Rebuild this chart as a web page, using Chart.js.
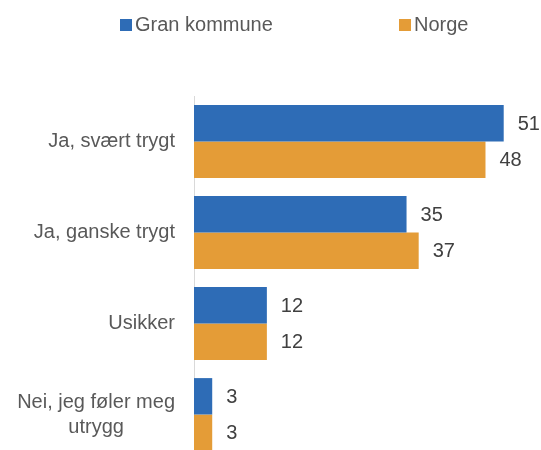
<!DOCTYPE html>
<html>
<head>
<meta charset="utf-8">
<script src="https://cdn.jsdelivr.net/npm/chart.js@4/dist/chart.umd.min.js"></script>
<style>
  html, body { margin: 0; padding: 0; background: #fff; overflow: hidden; }
  #wrap { width: 541px; height: 450px; overflow: hidden; }
</style>
</head>
<body>
<div id="wrap"><canvas id="chart" width="541" height="470"></canvas></div>
<script>
// Trygghet – Gran kommune vs Norge (prosent)
const categories = [
  'Ja, svært trygt',
  'Ja, ganske trygt',
  'Usikker',
  ['Nei, jeg føler meg', 'utrygg']
];
const seriesNames = ['Gran kommune', 'Norge'];
const granValues  = [51, 35, 12, 3];
const norgeValues = [48, 37, 12, 3];
const seriesColors = ['#2e6cb6', '#e49c37'];

const FONT = "'Liberation Sans', Arial, sans-serif";

// category labels: right-aligned blocks, lines centered inside each block
const categoryLabels = {
  id: 'categoryLabels',
  afterDraw(chart) {
    const { ctx, chartArea, scales: { y } } = chart;
    ctx.save();
    ctx.font = '20px ' + FONT;
    ctx.fillStyle = '#595959';
    ctx.textAlign = 'center';
    ctx.textBaseline = 'middle';
    const lineH = 25;
    categories.forEach((label, i) => {
      const lines = Array.isArray(label) ? label : [label];
      const maxW = Math.max(...lines.map(l => ctx.measureText(l).width));
      const cx = chartArea.left - 19 - maxW / 2;
      const cy = y.getPixelForTick(i);
      const y0 = cy - (lines.length - 1) * lineH / 2;
      lines.forEach((l, k) => ctx.fillText(l, cx, y0 + k * lineH));
    });
    ctx.restore();
  }
};

// values to the right of each bar
const valueLabels = {
  id: 'valueLabels',
  afterDatasetsDraw(chart) {
    const { ctx } = chart;
    ctx.save();
    ctx.font = '20px ' + FONT;
    ctx.fillStyle = '#404040';
    ctx.textAlign = 'left';
    ctx.textBaseline = 'middle';
    chart.data.datasets.forEach((ds, di) => {
      chart.getDatasetMeta(di).data.forEach((bar, i) => {
        ctx.fillText(String(ds.data[i]), bar.x + 14, bar.y + 1);
      });
    });
    ctx.restore();
  }
};

// legend spread out like the original
const spreadLegend = {
  id: 'spreadLegend',
  afterDraw(chart) {
    const { ctx } = chart;
    const starts = [120, 399];
    ctx.save();
    ctx.font = '20px ' + FONT;
    ctx.textBaseline = 'middle';
    ctx.textAlign = 'left';
    chart.data.datasets.forEach((ds, i) => {
      ctx.fillStyle = ds.backgroundColor;
      ctx.fillRect(starts[i], 19, 12, 12);
      ctx.fillStyle = '#595959';
      ctx.fillText(ds.label, starts[i] + 15, 25);
    });
    ctx.restore();
  }
};

new Chart(document.getElementById('chart').getContext('2d'), {
  type: 'bar',
  data: {
    labels: categories,
    datasets: [
      { label: seriesNames[0], data: granValues,  backgroundColor: seriesColors[0] },
      { label: seriesNames[1], data: norgeValues, backgroundColor: seriesColors[1] }
    ]
  },
  options: {
    indexAxis: 'y',
    responsive: false,
    animation: false,
    categoryPercentage: 0.8,
    barPercentage: 1.0,
    layout: { padding: { top: 96, left: 186, right: 13, bottom: 10 } },
    plugins: {
      legend:  { display: false },
      tooltip: { enabled: false }
    },
    scales: {
      x: { display: false, min: 0, max: 55 },
      y: {
        ticks:  { display: false },
        grid:   { display: false },
        border: { display: true, color: '#d9d9d9', width: 1 }
      }
    }
  },
  plugins: [categoryLabels, valueLabels, spreadLegend]
});
</script>
</body>
</html>
